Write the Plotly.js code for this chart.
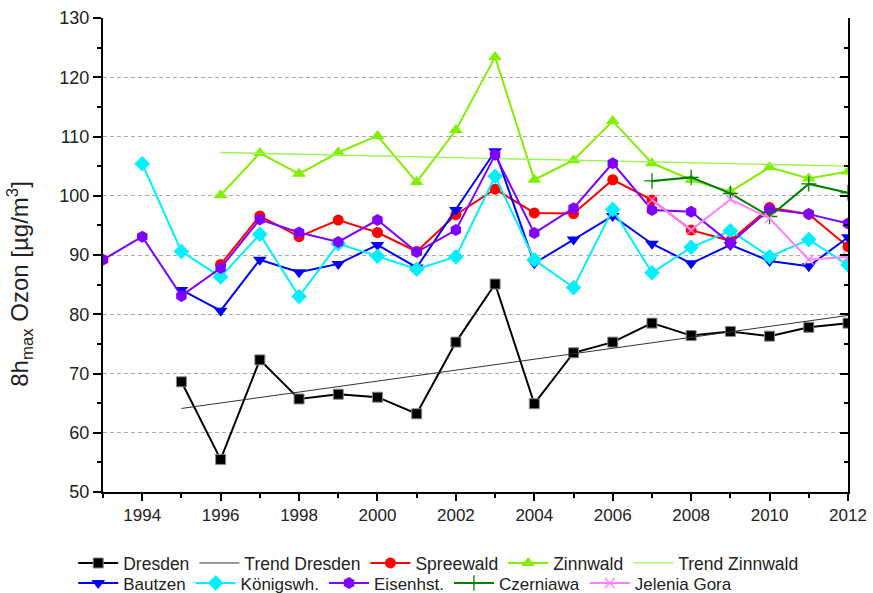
<!DOCTYPE html>
<html>
<head>
<meta charset="utf-8">
<script src="https://cdn.plot.ly/plotly-3.0.1.min.js"></script>
<style>html,body{margin:0;padding:0;background:#fff;}#chart{width:873px;height:593px;}</style>
</head>
<body>
<div id="chart"></div>
<script>
const dresdenYears = [1995,1996,1997,1998,1999,2000,2001,2002,2003,2004,2005,2006,2007,2008,2009,2010,2011,2012];
const dresden = [68.6,55.5,72.3,65.7,66.5,66.0,63.2,75.3,85.1,64.9,73.5,75.3,78.5,76.4,77.1,76.3,77.8,78.5];

const trendDresdenYears = [1995,2012];
const trendDresden = [64.1,79.8];

const spreewaldYears = [1996,1997,1998,1999,2000,2001,2002,2003,2004,2005,2006,2007,2008,2009,2010,2011,2012];
const spreewald = [88.4,96.6,93.1,95.9,93.8,90.6,96.8,101.1,97.1,97.0,102.7,99.3,94.2,92.4,98.0,96.9,91.4];

const zinnwaldYears = [1996,1997,1998,1999,2000,2001,2002,2003,2004,2005,2006,2007,2008,2009,2010,2011,2012];
const zinnwald = [100.1,107.2,103.7,107.3,110.1,102.3,111.1,123.4,102.7,106.0,112.6,105.5,102.7,100.7,104.8,102.9,104.1];

const trendZinnwaldYears = [1996,2012];
const trendZinnwald = [107.3,105.0];

const bautzenYears = [1995,1996,1997,1998,1999,2000,2001,2002,2003,2004,2005,2006,2007,2008,2009,2010,2011,2012];
const bautzen = [84.1,80.6,89.2,87.1,88.5,91.7,87.9,97.6,107.5,88.6,92.6,96.6,91.9,88.6,91.7,89.0,88.1,93.0];

const koenigYears = [1994,1995,1996,1997,1998,1999,2000,2001,2002,2003,2004,2005,2006,2007,2008,2009,2010,2011,2012];
const koenig = [105.4,90.6,86.3,93.5,83.0,91.9,89.8,87.6,89.7,103.3,89.2,84.5,97.7,87.0,91.3,94.1,89.7,92.6,88.3];

const eisenYears = [1993,1994,1995,1996,1997,1998,1999,2000,2001,2002,2003,2004,2005,2006,2007,2008,2009,2010,2011,2012];
const eisen = [89.2,93.1,83.1,87.8,96.0,93.8,92.2,95.9,90.5,94.2,106.9,93.7,97.9,105.5,97.6,97.3,92.0,97.7,96.9,95.3];

const czerYears = [2007,2008,2009,2010,2011,2012];
const czer = [102.5,103.1,100.4,96.5,102.0,100.5];

const jeleniaYears = [2007,2008,2009,2010,2011,2012];
const jelenia = [99.3,94.2,99.4,96.2,89.2,89.7];

const xTickVals = [1994,1996,1998,2000,2002,2004,2006,2008,2010,2012];
const yTickVals = [50,60,70,80,90,100,110,120,130];
const yTitle = '8h<sub>max</sub> Ozon [µg/m<sup>3</sup>]';

function series(name, x, y, color, symbol, size, legend, opts) {
  return Object.assign({
    type: 'scatter', mode: 'lines+markers', name: name, x: x, y: y,
    line: {color: color, width: 2},
    marker: {color: color, symbol: symbol, size: size},
    legend: legend
  }, opts || {});
}

const traces = [
  series('Dresden', dresdenYears, dresden, '#000000', 'square', 10, 'legend', {marker:{color:'#000', symbol:'square', size:10, line:{color:'#888', width:1}}}),
  {type:'scatter', mode:'lines', name:'Trend Dresden', x: trendDresdenYears, y: trendDresden, line:{color:'#333', width:1}, legend:'legend'},
  series('Spreewald', spreewaldYears, spreewald, '#ff0000', 'circle', 11, 'legend'),
  series('Zinnwald', zinnwaldYears, zinnwald, '#80f000', 'triangle-up', 12, 'legend'),
  {type:'scatter', mode:'lines', name:'Trend Zinnwald', x: trendZinnwaldYears, y: trendZinnwald, line:{color:'#99f550', width:1.3}, legend:'legend'},
  series('Bautzen', bautzenYears, bautzen, '#0000ff', 'triangle-down', 12, 'legend2'),
  series('Königswh.', koenigYears, koenig, '#00f0ff', 'diamond', 12, 'legend2'),
  series('Eisenhst.', eisenYears, eisen, '#8000ff', 'hexagon', 12, 'legend2'),
  series('Czerniawa', czerYears, czer, '#007f00', 'cross-thin-open', 10, 'legend2', {marker:{color:'#007f00', symbol:'cross-thin-open', size:11, line:{color:'#007f00', width:1.3}}}),
  series('Jelenia Gora', jeleniaYears, jelenia, '#ff80ff', 'x-thin-open', 10, 'legend2', {marker:{color:'#ff80ff', symbol:'x-thin-open', size:10, line:{color:'#ff80ff', width:1.3}}})
];

const font = {family: 'Liberation Sans, Arial, sans-serif', color: '#222'};

const layout = {
  width: 873, height: 593,
  margin: {l: 103, r: 25, t: 18, b: 101, autoexpand: false},
  paper_bgcolor: '#fff', plot_bgcolor: '#fff',
  font: Object.assign({size: 17}, font),
  showlegend: true,
  xaxis: {
    range: [1993, 2012], tickvals: xTickVals, ticktext: xTickVals.map(String),
    showgrid: false, zeroline: false, showline: true, linecolor: '#000', linewidth: 2,
    ticks: 'outside', ticklen: 7, tickwidth: 2, tickcolor: '#000',
    minor: {dtick: 1, ticks: 'outside', ticklen: 4, tickwidth: 2, tickcolor: '#000'},
    tickfont: {size: 17}
  },
  yaxis: {
    range: [50, 130], tickvals: yTickVals,
    showgrid: true, gridcolor: '#aaa', griddash: '4px,3px', gridwidth: 1,
    zeroline: false, showline: true, linecolor: '#000', linewidth: 2,
    ticks: 'outside', ticklen: 8, tickwidth: 2, tickcolor: '#000',
    minor: {dtick: 5, ticks: 'outside', ticklen: 4, tickwidth: 2, tickcolor: '#000', showgrid: false},
    tickfont: {size: 18}
  },
  yaxis2: {
    overlaying: 'y', side: 'right', range: [50, 130], tickvals: yTickVals,
    showgrid: false, zeroline: false, showline: true, linecolor: '#000', linewidth: 2,
    ticks: 'inside', ticklen: 8, tickwidth: 2, tickcolor: '#000', showticklabels: false,
    minor: {dtick: 5, ticks: 'inside', ticklen: 4, tickwidth: 2, tickcolor: '#000'}
  },
  annotations: [{
    text: yTitle, textangle: -90, xref: 'paper', yref: 'paper',
    x: -0.111, y: 0.44, xanchor: 'center', yanchor: 'middle', showarrow: false,
    font: {size: 24, family: font.family, color: '#222'}
  }],
  legend: {orientation: 'h', x: -0.04, xanchor: 'left', y: -0.15, yanchor: 'middle',
           font: {size: 17.5}, bgcolor: 'rgba(0,0,0,0)', itemwidth: 40, traceorder: 'normal'},
  legend2: {orientation: 'h', x: -0.04, xanchor: 'left', y: -0.193, yanchor: 'middle',
           font: {size: 17}, bgcolor: 'rgba(0,0,0,0)', itemwidth: 40, traceorder: 'normal'}
};

traces.push({type:'scatter', x:[1993], y:[null], yaxis:'y2', showlegend:false, hoverinfo:'skip'});

Plotly.newPlot('chart', traces, layout, {displayModeBar: false, staticPlot: true});
</script>
</body>
</html>
